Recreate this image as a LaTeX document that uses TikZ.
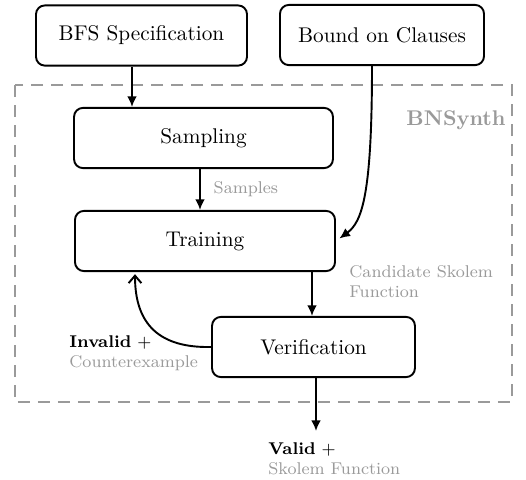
\documentclass[tikz,border=0pt]{standalone}
\usetikzlibrary{arrows.meta}
\definecolor{labgray}{HTML}{9A9A9A}
\tikzset{
  stage/.style={draw,line width=0.9pt,rounded corners=4.2pt,minimum height=28.3pt,inner sep=0pt},
  note/.style={font=\footnotesize,text=labgray,align=left,inner sep=0pt},
  flow/.style={line width=0.9pt,-{Latex[length=5pt,width=4.6pt]}},
}
\begin{document}
\begin{tikzpicture}[x=0.47pt,y=-0.47pt]
\useasboundingbox (0,0) rectangle (526,480);

\draw[labgray,line width=0.9pt,dash pattern=on 5.6pt off 3.8pt] (15,85) rectangle (512,402);
\node[anchor=base east,font=\bfseries,text=labgray,inner sep=0pt] (tool) at (506,125) {BNSynth};

\node[stage,minimum width=99.2pt] (bfs) at (141.5,35.5) {BFS Specification};
\node[stage,minimum width=95.9pt] (bound) at (382,35) {Bound on Clauses};
\node[stage,minimum width=121.7pt] (sampling) at (203.5,138) {Sampling};
\node[stage,minimum width=122.2pt] (training) at (205,241) {Training};
\node[stage,minimum width=95.4pt] (verif) at (313.5,347) {Verification};

\coordinate (xin) at (132,0);
\coordinate (xsa) at (200,0);
\coordinate (xbd) at (372,0);
\coordinate (xtr) at (312,0);
\coordinate (xfb) at (135,0);
\coordinate (xout) at (316,0);
\coordinate (result) at (316,431);

\draw[flow] (bfs.south -| xin) -- (sampling.north -| xin);
\draw[flow] (sampling.south -| xsa) -- node[note,right,xshift=6pt] {Samples} (training.north -| xsa);
\draw[flow,shorten >=2pt] (bound.south -| xbd) .. controls (372,195) and (362,222) .. (training.east);
\draw[flow] (training.south -| xtr) -- (verif.north -| xtr);
\draw[line width=0.9pt,-{Straight Barb[length=3.5pt,width=6pt]},shorten >=1pt] (verif.west) .. controls (160,348) and (135,325) .. (training.south -| xfb);
\draw[flow] (verif.south -| xout) -- (result);

\node[note,anchor=north west] (cand) at (349,265) {Candidate Skolem\\Function};
\node[note,anchor=north west] (invalid) at (69,335) {\textcolor{black}{\textbf{Invalid} +}\\Counterexample};
\node[note,anchor=north west] (valid) at (268,442) {\textcolor{black}{\textbf{Valid} +}\\Skolem Function};
\end{tikzpicture}
\end{document}
